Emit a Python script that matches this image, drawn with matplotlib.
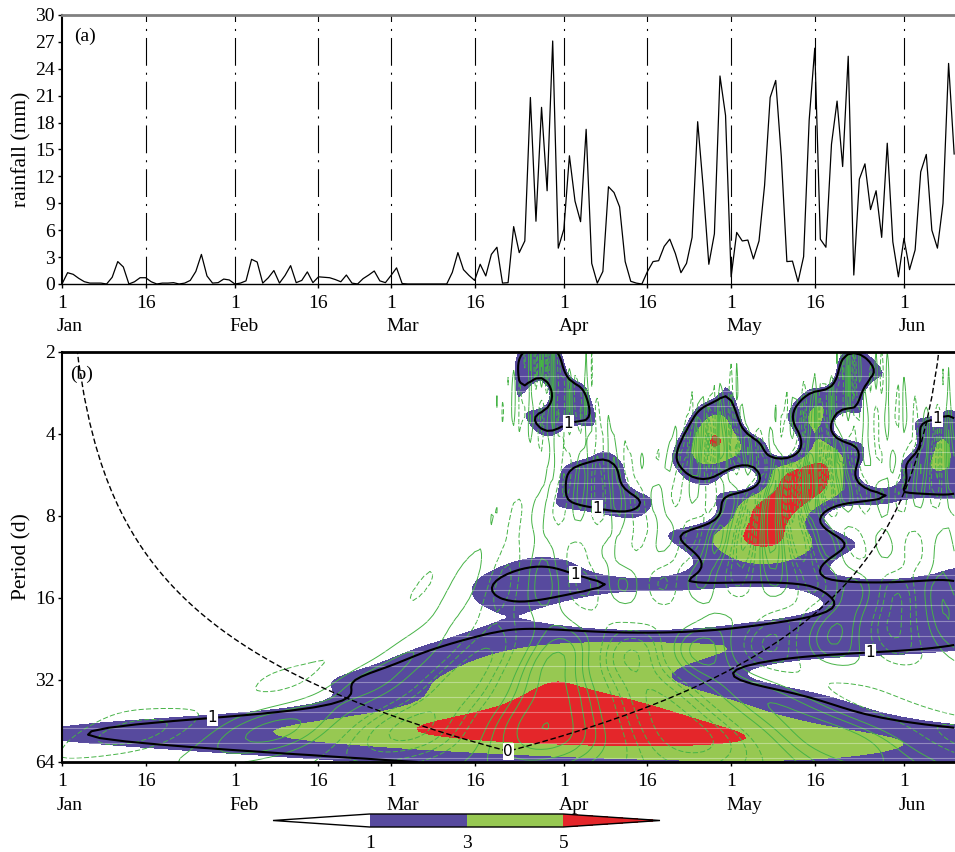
import numpy as np
import matplotlib
matplotlib.use("Agg")
import matplotlib.pyplot as plt

plt.rcParams['font.family'] = ['Liberation Serif', 'DejaVu Serif']
plt.rcParams['font.size'] = 14
plt.rcParams['lines.scale_dashes'] = False

# ---------------- data (daily rainfall, mm, from 1 Jan) ----------------
rainfall = np.array([
    0.0, 1.26, 1.08, 0.63, 0.26, 0.1, 0.1, 0.1, 0.0, 0.75,
    2.5, 1.9, 0.0, 0.25, 0.7, 0.7, 0.25, 0.0, 0.1, 0.1,
    0.15, 0.0, 0.1, 0.4, 1.4, 3.3, 0.9, 0.1, 0.15, 0.55,
    0.45, 0.0, 0.1, 0.35, 2.75, 2.45, 0.1, 0.7, 1.5, 0.1,
    0.95, 2.05, 0.15, 0.4, 1.35, 0.15, 0.8, 0.75, 0.7, 0.5,
    0.25, 1.0, 0.1, 0.0, 0.6, 1.0, 1.45, 0.35, 0.15, 0.95,
    1.8, 0.05, 0.0, 0.0, 0.0, 0.0, 0.0, 0.0, 0.0, 0.0,
    1.3, 3.5, 1.6, 0.95, 0.4, 2.2, 0.9, 3.3, 4.1, 0.1,
    0.15, 6.4, 3.5, 4.8, 20.8, 7.0, 19.7, 10.4, 27.1, 4.0,
    6.1, 14.3, 9.25, 6.95, 17.25, 2.3, 0.1, 1.4, 10.85, 10.2,
    8.6, 2.5, 0.3, 0.1, 0.0, 1.4, 2.5, 2.6, 4.2, 5.0,
    3.4, 1.26, 2.3, 5.2, 18.1, 10.7, 2.2, 5.6, 23.2, 18.8,
    0.8, 5.75, 4.8, 4.9, 2.8, 4.8, 11.0, 20.8, 22.7, 14.2,
    2.5, 2.55, 0.25, 3.05, 18.3, 26.3, 5.0, 4.1, 15.6, 20.4,
    13.1, 25.4, 1.0, 11.7, 13.4, 8.3, 10.4, 5.2, 15.7, 4.7,
    0.8, 5.1, 1.6, 3.8, 12.5, 14.45, 6.0, 4.0, 9.0, 24.6,
    14.5,
])
days = np.arange(len(rainfall))

tick_days = [0, 15, 31, 46, 59, 74, 90, 105, 120, 135, 151]
tick_labels = ['1', '16', '1', '16', '1', '16', '1', '16', '1', '16', '1']
month_days = [0, 31, 59, 90, 120, 151]
month_names = ['Jan', 'Feb', 'Mar', 'Apr', 'May', 'Jun']
ref_line_days = [15, 31, 46, 59, 74, 90, 105, 120, 135, 151]
rain_ticks = list(range(0, 31, 3))
period_ticks = [2, 4, 8, 16, 32, 64]
power_levels = [1, 3, 5]
outline_level = 1.3
fill_colors = ['white', '#574a9e', '#97c852', '#e4262a']


# ---------------- Morlet wavelet transform (Torrence & Compo 1998) -------
def morlet_cwt(y, dt=1.0, dj=1 / 24, pmin=2.0, pmax=64.0, omega0=6.0):
    n1 = len(y)
    x = y - y.mean()
    n = int(2 ** np.ceil(np.log2(n1)))
    xp = np.concatenate([x, np.zeros(n - n1)])
    kpos = np.arange(1, n // 2 + 1) * 2 * np.pi / (n * dt)
    k = np.concatenate([[0.0], kpos, -kpos[:(n - 1) // 2][::-1]])
    ff = 4 * np.pi / (omega0 + np.sqrt(2 + omega0 ** 2))
    s0 = pmin / ff
    J = int(round(np.log2(pmax / pmin) / dj))
    scales = s0 * 2 ** (np.arange(J + 1) * dj)
    f = np.fft.fft(xp)
    W = np.empty((J + 1, n1), complex)
    for i, s in enumerate(scales):
        daughter = (np.sqrt(2 * np.pi * s / dt) * np.pi ** (-0.25)
                    * np.exp(-((s * k - omega0) ** 2) / 2) * (k > 0))
        W[i] = np.fft.ifft(f * daughter)[:n1]
    period = scales * ff
    t = np.arange(n1)
    coi = ff / np.sqrt(2) * dt * np.maximum(np.minimum(t, n1 - 1 - t), 1e-5)
    return W, period, coi


W, period, coi = morlet_cwt(rainfall)
var = rainfall.var()
power = np.abs(W) ** 2 / var
real_part = W.real / np.sqrt(var)

# ---------------- figure ----------------
W_px, H_px = 955, 852
fig = plt.figure(figsize=(W_px / 100, H_px / 100), dpi=100)
x0 = 62 / W_px
xlim = (0, 160.15)

# ---- panel (a)
ax1 = fig.add_axes([x0, 1 - 284 / H_px, 1 - x0, (284 - 15) / H_px])
for d in ref_line_days:
    ax1.axvline(d, color='black', lw=0.8, ls=(0, (20, 5, 1.5, 5)), zorder=1)
ax1.plot(days, rainfall, color='black', lw=0.9, zorder=3)
ax1.set_xlim(*xlim)
ax1.set_ylim(0, 30)
ax1.set_yticks(rain_ticks)
ax1.set_ylabel('rainfall (mm)', labelpad=3, fontsize=15.5)
ax1.text(0.014, 0.905, '(a)', transform=ax1.transAxes, fontsize=14)

# ---- panel (b)
ax2 = fig.add_axes([x0, 1 - 762 / H_px, 1 - x0, (762 - 352) / H_px])
cf = ax2.contourf(days, period, power, levels=power_levels, colors=fill_colors,
                  extend='both', zorder=1)
lv = np.arange(0.5, 6.01, 0.5)
ax2.contour(days, period, real_part, levels=np.concatenate([-lv[::-1], lv]),
            colors='#46b346', linewidths=0.7, zorder=2)
for k in range(26):
    ax2.axhline(2 ** (1 + (23.7 + 15.3 * k) / 82), color='white', lw=0.8,
                alpha=0.35, zorder=2.5)
cs = ax2.contour(days, period, power, levels=[outline_level], colors='black',
                 linewidths=1.5, zorder=3)
lbls = ax2.clabel(cs, fmt={outline_level: '1'}, fontsize=11, inline=True,
                  inline_spacing=2)
for t in lbls:
    t.set_rotation(0)
    t.set_bbox(dict(facecolor='white', edgecolor='none', pad=0.5))
    t.set_family('DejaVu Sans')
ax2.plot(days, coi, color='black', lw=1.0, ls=(0, (4, 2)), zorder=4)
imin = int(np.argmax(coi))
ax2.text(days[imin], coi[imin], '0', ha='center', va='center', fontsize=11,
         family='DejaVu Sans',
         bbox=dict(facecolor='white', edgecolor='none', pad=0.5), zorder=5)
ax2.set_yscale('log', base=2)
ax2.set_ylim(64, 2)
ax2.set_yticks(period_ticks)
ax2.set_yticklabels([str(p) for p in period_ticks])
ax2.minorticks_off()
ax2.set_xlim(*xlim)
ax2.set_ylabel('Period (d)', labelpad=3, fontsize=15.5)
ax2.text(0.009, 0.935, '(b)', transform=ax2.transAxes, fontsize=14, zorder=6)

for ax, topcol in ((ax1, '#808080'), (ax2, 'black')):
    ax.set_xticks(tick_days)
    ax.set_xticklabels(tick_labels)
    ax.tick_params(axis='x', direction='out', length=3, width=1, pad=5)
    ax.tick_params(axis='y', direction='out', length=3, width=1, pad=2)
    ax.spines['right'].set_visible(False)
    ax.spines['top'].set_color(topcol)
    ax.spines['top'].set_linewidth(2)
    ax.spines['left'].set_linewidth(1.5)
    for d, m in zip(month_days, month_names):
        ax.annotate(m, xy=(d, 0), xycoords=('data', 'axes fraction'),
                    xytext=(-5, -43), textcoords='offset pixels',
                    ha='left', va='center', fontsize=14, annotation_clip=False)
ax1.spines['bottom'].set_linewidth(1.0)
ax2.spines['bottom'].set_linewidth(2)

# ---- colorbar
cax = fig.add_axes([273 / W_px, 1 - 827 / H_px, (660 - 273) / W_px, 13 / H_px])
cb = fig.colorbar(cf, cax=cax, orientation='horizontal', extendfrac=0.5,
                  ticks=power_levels)
cb.outline.set_linewidth(1)
cax.tick_params(length=0, pad=6, labelsize=14)

fig.savefig('out.png', dpi=100)
